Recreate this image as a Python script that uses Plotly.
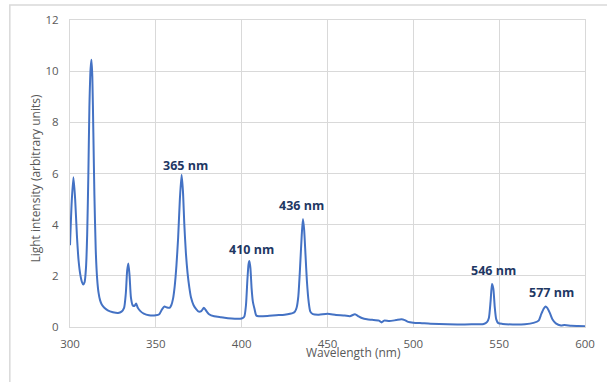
import plotly.graph_objects as go

wavelength = [300, 301, 302, 303, 304, 305, 306, 307, 307.7, 308.5, 309.3, 310, 310.7, 311.3, 312, 312.5, 313, 313.6, 314.2, 315, 315.8, 316.6, 317.5, 318.5, 320, 322, 325, 328, 330, 331.5, 332.5, 333.3, 334, 334.7, 335.5, 336.5, 337.5, 338.5, 339.5, 341, 343, 346, 350, 352, 353.5, 355, 356.5, 358, 359, 360, 361, 362, 363, 364, 365, 365.8, 366.6, 367.5, 368.5, 369.5, 370.5, 372, 373.5, 375, 376.5, 378, 379.5, 381, 384, 388, 392, 396, 400, 401.5, 402.5, 403.3, 404, 404.5, 405.1, 405.8, 406.5, 407.5, 408.5, 410, 415, 420, 425, 430, 431, 432, 433, 434, 435, 435.7, 436.4, 437.2, 438, 439, 440, 441.5, 445, 450, 455, 460, 463, 466, 468, 470, 473, 476, 480, 481.5, 483, 486, 490, 493, 495, 497, 500, 505, 510, 520, 530, 538, 541, 543, 544, 545, 545.8, 546.6, 547.4, 548.3, 549.5, 552, 558, 565, 570, 573, 574.5, 576, 577, 578, 579.5, 581, 583, 586, 588, 592, 596, 600]
intensity = [3.2, 4.9, 5.85, 5.0, 3.6, 2.6, 2.05, 1.75, 1.66, 1.75, 2.3, 3.6, 6.0, 8.6, 10.1, 10.45, 9.8, 7.6, 5.2, 3.0, 1.9, 1.35, 1.05, 0.88, 0.75, 0.65, 0.58, 0.55, 0.6, 0.75, 1.3, 2.2, 2.48, 2.0, 1.15, 0.85, 0.82, 0.92, 0.75, 0.62, 0.52, 0.46, 0.46, 0.5, 0.68, 0.8, 0.76, 0.75, 0.85, 1.1, 1.6, 2.4, 3.5, 5.0, 5.95, 5.3, 4.0, 2.9, 2.1, 1.55, 1.15, 0.85, 0.7, 0.6, 0.62, 0.75, 0.62, 0.5, 0.42, 0.38, 0.34, 0.32, 0.33, 0.4, 0.85, 1.8, 2.45, 2.58, 2.3, 1.5, 1.0, 0.7, 0.45, 0.42, 0.43, 0.46, 0.48, 0.55, 0.6, 0.75, 1.2, 2.3, 3.6, 4.22, 3.8, 2.8, 1.8, 1.0, 0.6, 0.5, 0.48, 0.52, 0.47, 0.45, 0.42, 0.5, 0.42, 0.35, 0.3, 0.28, 0.25, 0.18, 0.25, 0.23, 0.27, 0.3, 0.27, 0.2, 0.17, 0.15, 0.13, 0.11, 0.1, 0.11, 0.12, 0.2, 0.35, 1.0, 1.68, 1.5, 0.8, 0.3, 0.15, 0.12, 0.1, 0.11, 0.16, 0.25, 0.5, 0.72, 0.8, 0.75, 0.55, 0.3, 0.14, 0.06, 0.08, 0.05, 0.04, 0.03]

labels = ["365 nm", "410 nm", "436 nm", "546 nm", "577 nm"]
label_x = [367, 406, 435, 546.6, 580.5]
label_y = [6.33, 3.01, 4.73, 2.19, 1.33]

x_ticks = [300, 350, 400, 450, 500, 550, 600]
y_ticks = [0, 2, 4, 6, 8, 10, 12]

fig = go.Figure()
fig.add_trace(go.Scatter(x=wavelength, y=intensity, mode="lines",
                         line=dict(color="#4472C4", width=2, shape="spline", smoothing=0.6),
                         showlegend=False, hoverinfo="skip"))

for t, xx, yy in zip(labels, label_x, label_y):
    fig.add_annotation(x=xx, y=yy, text="<b>" + t + "</b>", showarrow=False,
                       font=dict(family="Open Sans", size=12.5, color="#1F3864"))

grid = "#D9D9D9"
fig.update_xaxes(range=[300, 600], tickvals=x_ticks, showgrid=True, gridcolor=grid, gridwidth=1,
                 zeroline=False, showline=True, linecolor=grid, mirror=True,
                 tickfont=dict(family="Open Sans", size=11.5, color="#595959"), ticks="",
                 ticklabelstandoff=6)
fig.update_yaxes(range=[0, 12], tickvals=y_ticks, showgrid=True, gridcolor=grid, gridwidth=1,
                 zeroline=False, showline=True, linecolor=grid, mirror=True,
                 tickfont=dict(family="Open Sans", size=11.5, color="#595959"), ticks="",
                 ticklabelstandoff=8)

fig.add_annotation(xref="paper", yref="paper", x=0.55, y=-0.082, text="Wavelength (nm)",
                   showarrow=False, font=dict(family="Open Sans", size=12, color="#595959"),
                   yanchor="middle")
fig.add_annotation(xref="paper", yref="paper", x=-0.067, y=0.485, text="Light intensity (arbitrary units)",
                   showarrow=False, textangle=-90, font=dict(family="Open Sans", size=12, color="#595959"),
                   xanchor="center", yanchor="middle")

# outer chart border
fig.add_shape(type="rect", xref="paper", yref="paper",
              x0=(9 - 70) / 522, x1=(640 - 70) / 522, y0=-(400 - 327) / 307, y1=1 + (20 - 5) / 307,
              line=dict(color=grid, width=1.5), fillcolor="rgba(0,0,0,0)", layer="below")

fig.update_layout(width=607, height=382, margin=dict(l=70, r=15, t=20, b=55),
                  plot_bgcolor="white", paper_bgcolor="white")
fig.write_html("out.html", config={"displayModeBar": False},
               post_script="document.body.style.margin='0px';document.body.style.overflow='hidden';")
